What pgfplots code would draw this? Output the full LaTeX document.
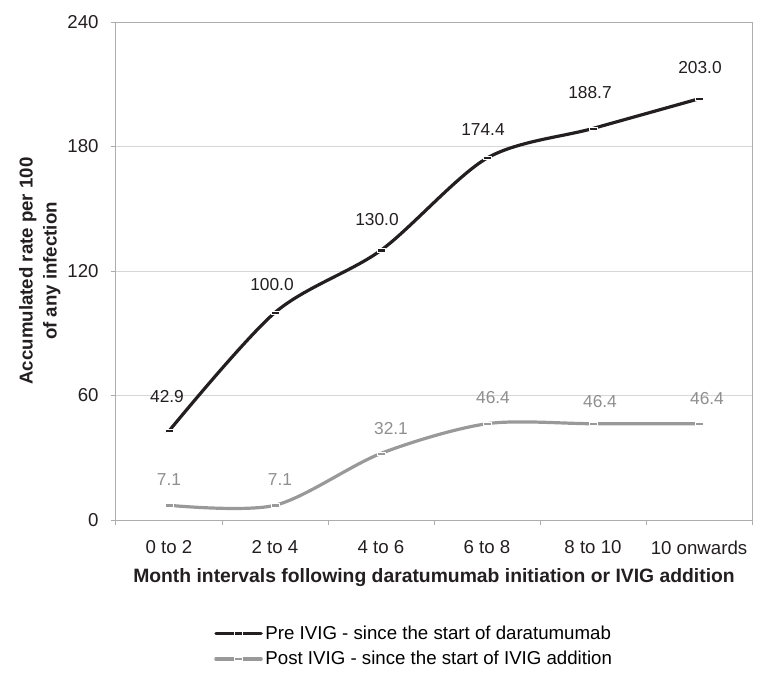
\documentclass[border=0pt]{standalone}
\usepackage{fontspec}
\setmainfont{Liberation Sans}
\usepackage{pgfplots}
\usepackage{pgfplotstable}
\pgfplotsset{compat=1.18}

\definecolor{preline}{HTML}{231F20}
\definecolor{postline}{HTML}{999999}
\definecolor{postlab}{HTML}{8F8F8F}
\definecolor{gridc}{HTML}{D6D6D6}
\definecolor{axisc}{HTML}{ADADAD}

% Excel-style "dash" marker: small flat box, white outline
\pgfdeclareplotmark{dashbox}{%
  \pgfpathrectangle{\pgfpoint{-\pgfplotmarksize}{-0.4\pgfplotmarksize}}%
    {\pgfpoint{2\pgfplotmarksize}{0.8\pgfplotmarksize}}%
  \pgfusepathqfillstroke}

% x = interval index, y = accumulated rate, dx/dy = label offset (pt)
\pgfplotstableread{
x y     dx    dy
0 42.9  -1.5  25.5
1 100.0 -2.25 21
2 130.0 -3    23.25
3 174.4 -3    21.75
4 188.7 -2.25 27
5 203.0 0.75  23.25
}\preivig
\pgfplotstableread{
x y    dx   dy
0 7.1  0    19.5
1 7.1  3.75 19.5
2 32.1 7.5  18.75
3 46.4 4.5  19.5
4 46.4 5.25 16.5
5 46.4 6    18.75
}\postivig

\begin{document}
\begin{tikzpicture}
\useasboundingbox (-87pt,-114pt) rectangle (484.5pt,390pt);
\begin{axis}[
  scale only axis, width=477pt, height=373.5pt,
  xmin=-0.5, xmax=5.5, ymin=0, ymax=240,
  ytick={0,60,...,240},
  xtick={0,...,5},
  xticklabels={0 to 2, 2 to 4, 4 to 6, 6 to 8, 8 to 10, 10 onwards},
  minor xtick={-0.5,0.5,...,5.5},
  xtick pos=bottom, ytick pos=left,
  tick align=outside,
  major x tick style={draw=none},
  minor tick length=4pt, major tick length=4pt,
  tick style={axisc, line width=0.75pt},
  axis line style={axisc, line width=0.75pt},
  ymajorgrids, grid style={gridc, line width=0.75pt},
  tick label style={font=\fontsize{14}{16}\selectfont, text=preline},
  xticklabel style={yshift=-8pt},
  yticklabel style={xshift=-5.5pt},
  /pgf/number format/assume math mode=true,
  ylabel={Accumulated rate per 100\\of any infection},
  ylabel style={align=center, font=\bfseries\fontsize{14}{18}\selectfont,
    at={(axis description cs:-0.12,0.5)}, anchor=center, text=preline},
  xlabel={Month intervals following daratumumab initiation or IVIG addition},
  xlabel style={font=\bfseries\fontsize{14.5}{16}\selectfont,
    at={(axis description cs:0.5,0)}, anchor=center, yshift=-43.5pt, text=preline},
  legend style={at={(axis description cs:0,0)}, anchor=north west,
    xshift=70.5pt, yshift=-75pt, draw=none, fill=none,
    font=\fontsize{14}{17}\selectfont, row sep=3.5pt},
  legend cell align=left,
  legend image code/.code={
    \draw[mark repeat=2,mark phase=2] plot coordinates {(0pt,0pt) (17pt,0pt) (34pt,0pt)};},
  clip=false,
]
\addplot[preline, line width=2.4pt, smooth, line cap=round, line join=round,
  mark=dashbox, mark size=3pt,
  mark options={draw=white, fill=preline, line width=0.45pt, solid},
  visualization depends on={\thisrow{dx} \as \dx},
  visualization depends on={\thisrow{dy} \as \dy},
  nodes near coords={\pgfmathprintnumber[fixed,fixed zerofill,precision=1]{\pgfplotspointmeta}},
  nodes near coords style={anchor=center, xshift=\dx, yshift=\dy,
    font=\fontsize{13}{15}\selectfont, text=preline}]
  table[x=x, y=y] {\preivig};
\addlegendentry{Pre IVIG - since the start of daratumumab}
\addplot[postline, line width=2.4pt, smooth, line cap=round, line join=round,
  mark=dashbox, mark size=3pt,
  mark options={draw=white, fill=postline, line width=0.45pt, solid},
  visualization depends on={\thisrow{dx} \as \dx},
  visualization depends on={\thisrow{dy} \as \dy},
  nodes near coords={\pgfmathprintnumber[fixed,fixed zerofill,precision=1]{\pgfplotspointmeta}},
  nodes near coords style={anchor=center, xshift=\dx, yshift=\dy,
    font=\fontsize{13}{15}\selectfont, text=postlab}]
  table[x=x, y=y] {\postivig};
\addlegendentry{Post IVIG - since the start of IVIG addition}
\end{axis}
\end{tikzpicture}
\end{document}
